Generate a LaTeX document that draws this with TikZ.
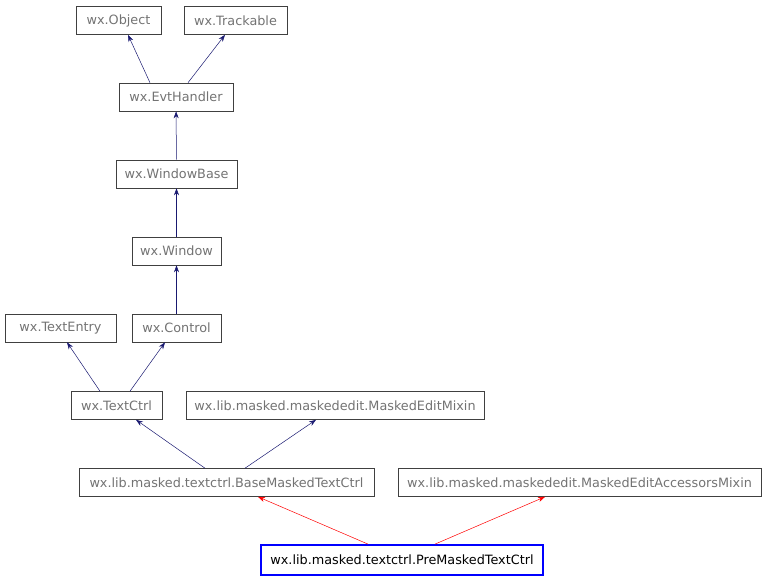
\documentclass[tikz,border=0pt]{standalone}
\usepackage{fontspec}
\setmainfont{DejaVu Sans}
\usetikzlibrary{arrows.meta}
\begin{document}
\begin{tikzpicture}[x=1pt,y=-1pt,
  cls/.style={draw=black!75,line width=0.6pt,text=black!55,font=\fontsize{12.8}{14}\selectfont,inner sep=0pt,minimum height=28pt,anchor=center},
  inh/.style={draw={rgb,255:red,25;green,25;blue,112},line width=0.5pt,-{Stealth[length=7pt,width=5pt]}},
  inr/.style={draw=red,line width=0.5pt,-{Stealth[length=7pt,width=5pt]}}]
\useasboundingbox (0,0) rectangle (767,581);
\node[cls,minimum width=85pt] (obj) at (118.5,20.5) {wx.Object};
\node[cls,minimum width=103pt] (trk) at (235.5,20.5) {wx.Trackable};
\node[cls,minimum width=114pt] (evt) at (176,97) {wx.EvtHandler};
\node[cls,minimum width=121pt] (wb) at (176.5,174) {wx.WindowBase};
\node[cls,minimum width=89pt] (win) at (176.5,251) {wx.Window};
\node[cls,minimum width=111pt] (te) at (60.5,328) {wx.TextEntry};
\node[cls,minimum width=89pt] (ctl) at (176.5,328) {wx.Control};
\node[cls,minimum width=91pt] (tc) at (116.5,405.5) {wx.TextCtrl};
\node[cls,minimum width=298pt] (mem) at (335,405.5) {wx.lib.masked.maskededit.MaskedEditMixin};
\node[cls,minimum width=295pt] (base) at (226.5,482.5) {wx.lib.masked.textctrl.BaseMaskedTextCtrl};
\node[cls,minimum width=363pt] (acc) at (579.5,482.5) {wx.lib.masked.maskededit.MaskedEditAccessorsMixin};
\node[cls,minimum width=282pt,minimum height=30pt,draw=blue,line width=1.8pt,text=black] (pre) at (402,560) {wx.lib.masked.textctrl.PreMaskedTextCtrl};
\draw[inh] (evt.north -| 150,0) -- (obj.south -| 128,0);
\draw[inh] (evt.north -| 188,0) -- (trk.south -| 225,0);
\draw[inh] (wb) -- (evt);
\draw[inh] (win) -- (wb);
\draw[inh] (ctl) -- (win);
\draw[inh] (tc.north -| 100,0) -- (te.south -| 67,0);
\draw[inh] (tc.north -| 130,0) -- (ctl.south -| 165,0);
\draw[inh] (base.north -| 205,0) -- (tc.south -| 136,0);
\draw[inh] (base.north -| 245,0) -- (mem.south -| 316,0);
\draw[inr] (pre.north -| 368,0) -- (base.south -| 258,0);
\draw[inr] (pre.north -| 435,0) -- (acc.south -| 545,0);
\end{tikzpicture}
\end{document}
